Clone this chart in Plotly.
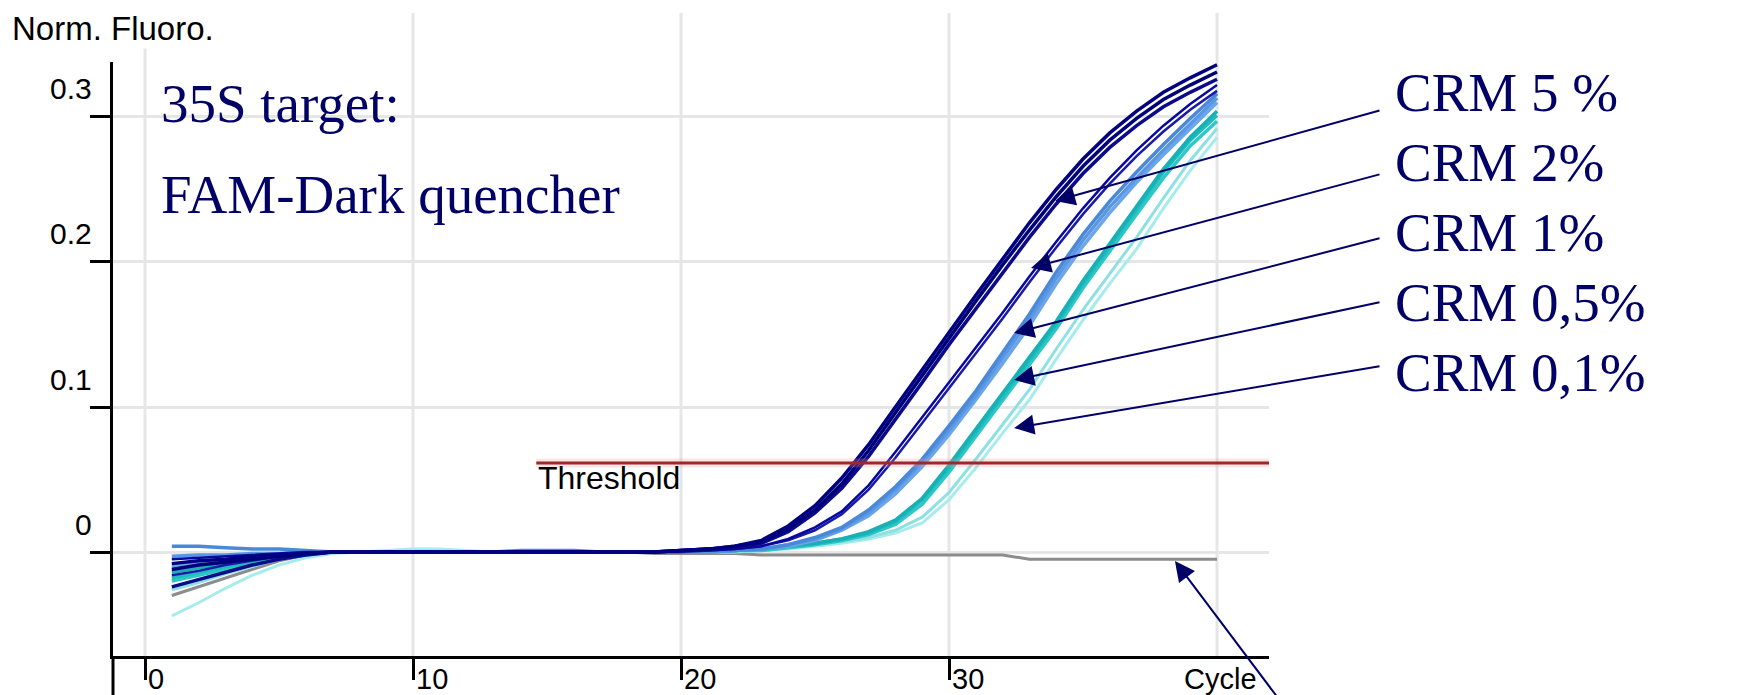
import plotly.graph_objects as go

# ---------------- data ----------------
cycles = [1, 2, 3, 4, 5, 6, 7, 8, 9, 10, 11, 12, 13, 14, 15, 16, 17, 18, 19, 20,
          21, 22, 23, 24, 25, 26, 27, 28, 29, 30, 31, 32, 33, 34, 35, 36, 37, 38, 39, 40]

crm5_a = [-0.008, -0.006, -0.005, -0.003, -0.002, -0.001, 0.0, 0.0, 0.0, 0.0, 0.0, 0.0, 0.0, 0.0, 0.0, 0.0, 0.0, 0.0, 0.0,
          0.001, 0.002, 0.004, 0.008, 0.018, 0.032, 0.051, 0.074, 0.100, 0.126, 0.152, 0.177, 0.202, 0.227, 0.250, 0.271, 0.289, 0.304, 0.317, 0.327, 0.336]
crm5_b = [-0.012, -0.009, -0.007, -0.005, -0.003, -0.001, 0.0, 0.0, 0.0, 0.0, 0.0, 0.0, 0.0, 0.0, 0.0, 0.0, 0.0, 0.0, 0.0,
          0.001, 0.002, 0.004, 0.007, 0.016, 0.029, 0.047, 0.070, 0.096, 0.122, 0.148, 0.173, 0.198, 0.222, 0.245, 0.266, 0.284, 0.299, 0.312, 0.322, 0.331]
crm5_c = [-0.024, -0.019, -0.014, -0.009, -0.005, -0.002, 0.0, 0.0, 0.0, 0.0, 0.0, 0.0, 0.0, 0.0, 0.0, 0.0, 0.0, 0.0, 0.0,
          0.001, 0.002, 0.003, 0.006, 0.014, 0.027, 0.044, 0.066, 0.091, 0.117, 0.143, 0.168, 0.193, 0.217, 0.240, 0.261, 0.279, 0.294, 0.307, 0.317, 0.326]

crm2_a = [-0.005, -0.004, -0.003, -0.002, -0.001, 0.0, 0.0, 0.0, 0.0, 0.0, 0.0, 0.0, 0.0, 0.0, 0.0, 0.0, 0.0, 0.0, 0.0,
          0.001, 0.001, 0.002, 0.004, 0.009, 0.017, 0.028, 0.046, 0.069, 0.093, 0.117, 0.141, 0.165, 0.190, 0.214, 0.237, 0.258, 0.277, 0.294, 0.309, 0.322]
crm2_b = [-0.016, -0.013, -0.009, -0.006, -0.003, -0.001, 0.0, 0.0, 0.0, 0.0, 0.0, 0.0, 0.0, 0.0, 0.0, 0.0, 0.0, 0.0, 0.0,
          0.0, 0.001, 0.002, 0.004, 0.008, 0.015, 0.026, 0.043, 0.065, 0.089, 0.113, 0.137, 0.161, 0.186, 0.210, 0.233, 0.254, 0.273, 0.290, 0.305, 0.318]

crm1_a = [0.004, 0.004, 0.003, 0.002, 0.002, 0.001, 0.0, 0.0, 0.0, 0.0, 0.0, 0.0, 0.0, 0.001, 0.001, 0.001, 0.0, 0.0, 0.0,
          0.0, 0.001, 0.001, 0.002, 0.005, 0.010, 0.017, 0.029, 0.045, 0.064, 0.087, 0.111, 0.137, 0.164, 0.193, 0.219, 0.242, 0.262, 0.281, 0.299, 0.316]
crm1_b = [-0.003, -0.002, -0.002, -0.001, -0.001, 0.0, 0.0, 0.0, 0.0, 0.0, 0.0, 0.0, 0.0, 0.0, 0.0, 0.0, 0.0, 0.0, 0.0,
          0.0, 0.0, 0.001, 0.002, 0.005, 0.009, 0.016, 0.027, 0.043, 0.062, 0.084, 0.108, 0.134, 0.160, 0.189, 0.215, 0.238, 0.258, 0.277, 0.295, 0.313]
crm1_c = [-0.010, -0.008, -0.006, -0.004, -0.002, -0.001, 0.0, 0.0, 0.0, 0.0, 0.0, 0.0, 0.0, 0.0, 0.0, 0.0, 0.0, 0.0, 0.0,
          0.0, 0.0, 0.001, 0.002, 0.004, 0.008, 0.015, 0.025, 0.040, 0.059, 0.081, 0.105, 0.130, 0.156, 0.185, 0.211, 0.234, 0.255, 0.274, 0.292, 0.310]

crm05_a = [-0.014, -0.011, -0.008, -0.005, -0.003, -0.001, 0.0, 0.0, 0.0, 0.0, 0.0, 0.0, 0.0, 0.0, 0.0, 0.0, 0.0, 0.0, 0.0,
           0.0, 0.0, 0.001, 0.002, 0.004, 0.006, 0.009, 0.014, 0.022, 0.037, 0.060, 0.085, 0.109, 0.134, 0.159, 0.187, 0.213, 0.238, 0.264, 0.286, 0.304]
crm05_b = [-0.018, -0.014, -0.010, -0.007, -0.004, -0.001, 0.0, 0.0, 0.0, 0.0, 0.0, 0.0, 0.0, 0.0, 0.0, 0.0, 0.0, 0.0, 0.0,
           0.0, 0.0, 0.001, 0.002, 0.004, 0.006, 0.009, 0.013, 0.021, 0.036, 0.058, 0.083, 0.107, 0.132, 0.157, 0.185, 0.211, 0.236, 0.262, 0.284, 0.301]
crm05_c = [-0.020, -0.016, -0.012, -0.008, -0.004, -0.002, 0.0, 0.0, 0.0, 0.0, 0.0, 0.0, 0.0, 0.0, 0.0, 0.0, 0.0, 0.0, 0.0,
           0.0, 0.0, 0.001, 0.001, 0.003, 0.005, 0.008, 0.012, 0.019, 0.033, 0.055, 0.080, 0.104, 0.129, 0.154, 0.182, 0.208, 0.233, 0.258, 0.280, 0.297]

crm01_a = [-0.044, -0.035, -0.025, -0.016, -0.009, -0.004, -0.001, 0.0, 0.001, 0.002, 0.002, 0.001, 0.0, 0.0, 0.0, 0.0, 0.0, 0.0, 0.0,
           0.0, 0.0, 0.0, 0.001, 0.002, 0.004, 0.006, 0.009, 0.013, 0.020, 0.036, 0.058, 0.082, 0.105, 0.133, 0.160, 0.185, 0.209, 0.237, 0.263, 0.286]
crm01_b = [-0.026, -0.021, -0.015, -0.010, -0.005, -0.002, 0.0, 0.0, 0.0, 0.0, 0.0, 0.0, 0.0, 0.0, 0.0, 0.0, 0.0, 0.0, 0.0,
           0.0, 0.0, 0.001, 0.001, 0.003, 0.005, 0.007, 0.010, 0.015, 0.024, 0.041, 0.064, 0.088, 0.112, 0.140, 0.167, 0.192, 0.217, 0.244, 0.270, 0.292]

ntc = [-0.030, -0.024, -0.018, -0.012, -0.006, -0.002, 0.0, 0.0, 0.0, 0.0, 0.0, 0.0, 0.0, 0.0, 0.0, 0.0, 0.0, 0.0, -0.001,
       -0.001, -0.001, -0.001, -0.002, -0.002, -0.002, -0.002, -0.002, -0.002, -0.002, -0.002, -0.002, -0.002,
       -0.005, -0.005, -0.005, -0.005, -0.005, -0.005, -0.005, -0.005]

threshold_value = 0.0614
threshold_start = 14.6
threshold_end = 41.94

x_tick_vals = [0, 10, 20, 30, 40]
x_tick_text = ["0", "10", "20", "30", "Cycle"]
y_tick_vals = [0, 0.1, 0.2, 0.3]
y_tick_text = ["0", "0.1", "0.2", "0.3"]

crm_labels = ["CRM 5 %", "CRM 2%", "CRM 1%", "CRM 0,5%", "CRM 0,1%"]
label_y = [0.3169, 0.2686, 0.2203, 0.1720, 0.1237]
arrow_tip_x = [33.96, 33.06, 32.43, 32.43, 32.43]
arrow_tip_y = [0.2421, 0.1959, 0.1510, 0.1186, 0.0855]
arrow_tail_x = [46.12, 46.12, 46.12, 46.12, 46.12]
arrow_tail_y = [0.3048, 0.2607, 0.2166, 0.1724, 0.1283]
ntc_arrow_tip = (38.43, -0.0062)
ntc_arrow_tail = (42.84, -0.1145)

# ---------------- figure ----------------
X_RANGE = [-1.194, 41.94]
Y_RANGE = [-0.0717, 0.3379]
NAVY_TXT = "#000066"

fig = go.Figure()

def add_curve(y, color, width):
    fig.add_trace(go.Scatter(x=cycles, y=y, mode="lines",
                             line=dict(color=color, width=width),
                             hoverinfo="skip", showlegend=False))

add_curve(ntc, "#8c8c8c", 3)
add_curve(crm01_a, "#a6ecec", 3)
add_curve(crm01_b, "#8fe0e4", 3)
add_curve(crm05_c, "#2cc8c8", 3.5)
add_curve(crm05_b, "#1fbcbc", 3.5)
add_curve(crm05_a, "#18b0b4", 3.5)
add_curve(crm1_c, "#6aa6ea", 3.5)
add_curve(crm1_b, "#5a96e2", 3.5)
add_curve(crm1_a, "#4a88d8", 3.5)
add_curve(crm2_b, "#1a1aa8", 2.5)
add_curve(crm2_a, "#0808a0", 2.5)
add_curve(crm5_c, "#0a0a8a", 3.5)
add_curve(crm5_b, "#000078", 3.5)
add_curve(crm5_a, "#000080", 3.5)

# threshold line (halo + line)
fig.add_trace(go.Scatter(x=[threshold_start, threshold_end], y=[threshold_value, threshold_value],
                         mode="lines", line=dict(color="rgba(240,150,150,0.25)", width=9),
                         hoverinfo="skip", showlegend=False))
fig.add_trace(go.Scatter(x=[threshold_start, threshold_end], y=[threshold_value, threshold_value],
                         mode="lines", line=dict(color="#9c2a2a", width=3),
                         hoverinfo="skip", showlegend=False))

shapes = []
# vertical grid lines reaching above the plot area
for v in x_tick_vals:
    shapes.append(dict(type="line", xref="x", yref="paper", x0=v, x1=v, y0=0, y1=1.0825,
                       line=dict(color="#e6e6e6", width=3), layer="below"))
# y axis continues below the x axis
shapes.append(dict(type="line", xref="paper", yref="paper", x0=0, x1=0, y0=0, y1=-0.085,
                   line=dict(color="black", width=3)))
# bottom grey rule
shapes.append(dict(type="line", xref="paper", yref="paper", x0=-0.0908, x1=1.012, y0=-0.0725, y1=-0.0725,
                   line=dict(color="#8c8c8c", width=2.5)))

annotations = []
TICK_FONT = dict(family="Liberation Sans", size=30, color="black")
XTICK_FONT = dict(family="Liberation Sans", size=29, color="black")
for v, t in zip(y_tick_vals, y_tick_text):
    annotations.append(dict(xref="paper", yref="y", x=0, y=v, xanchor="right", yanchor="middle",
                            xshift=-19, yshift=28, text=t, showarrow=False, font=TICK_FONT))
for v, t in zip(x_tick_vals, x_tick_text):
    if t == "Cycle":
        annotations.append(dict(xref="x", yref="paper", x=v, y=0, xanchor="center", yanchor="top",
                                xshift=3, yshift=-5, text=t, showarrow=False, font=XTICK_FONT))
    else:
        annotations.append(dict(xref="x", yref="paper", x=v, y=0, xanchor="left", yanchor="top",
                                xshift=1, yshift=-5, text=t, showarrow=False, font=XTICK_FONT))

annotations.append(dict(xref="paper", yref="paper", x=-0.0895, y=1.056, xanchor="left", yanchor="middle",
                        text="Norm. Fluoro.", showarrow=False, bgcolor="white",
                        font=dict(family="Liberation Sans", size=33, color="black")))
annotations.append(dict(xref="x", yref="y", x=threshold_start, y=0.0512, xanchor="left", yanchor="middle",
                        text="Threshold", showarrow=False,
                        font=dict(family="Liberation Sans", size=32, color="black")))

SERIF = dict(family="Liberation Serif", size=55, color=NAVY_TXT)
annotations.append(dict(xref="x", yref="y", x=0.53, y=0.3095, xanchor="left", yanchor="middle",
                        text="35S target:", showarrow=False, font=SERIF))
annotations.append(dict(xref="x", yref="y", x=0.53, y=0.2466, xanchor="left", yanchor="middle",
                        text="FAM-Dark quencher", showarrow=False, font=SERIF))

for lab, ly in zip(crm_labels, label_y):
    annotations.append(dict(xref="paper", yref="y", x=1.107, y=ly, xanchor="left", yanchor="middle",
                            text=lab, showarrow=False, font=SERIF))

for tx, ty, sx, sy in zip(arrow_tip_x, arrow_tip_y, arrow_tail_x, arrow_tail_y):
    annotations.append(dict(xref="x", yref="y", x=tx, y=ty, axref="x", ayref="y", ax=sx, ay=sy,
                            text="", showarrow=True, arrowhead=2, arrowsize=2, arrowwidth=2,
                            arrowcolor=NAVY_TXT, standoff=0))
annotations.append(dict(xref="x", yref="y", x=ntc_arrow_tip[0], y=ntc_arrow_tip[1], axref="x", ayref="y",
                        ax=ntc_arrow_tail[0], ay=ntc_arrow_tail[1], text="", showarrow=True,
                        arrowhead=2, arrowsize=2, arrowwidth=2, arrowcolor=NAVY_TXT, standoff=0))

fig.update_layout(
    width=1753, height=695,
    margin=dict(l=105, r=492, t=54, b=47, pad=0),
    plot_bgcolor="white", paper_bgcolor="white",
    showlegend=False,
    shapes=shapes, annotations=annotations,
    xaxis=dict(range=X_RANGE, showline=True, linecolor="black", linewidth=3,
               ticks="outside", ticklen=21, tickwidth=3, tickcolor="black",
               tickvals=[0, 10, 20, 30], showticklabels=False, showgrid=False, zeroline=False),
    yaxis=dict(range=Y_RANGE, showline=True, linecolor="black", linewidth=3,
               ticks="outside", ticklen=20, tickwidth=3, tickcolor="black",
               tickvals=y_tick_vals, showticklabels=False, showgrid=True,
               gridcolor="#e6e6e6", gridwidth=3, zeroline=False),
)

fig.write_html("out.html")
